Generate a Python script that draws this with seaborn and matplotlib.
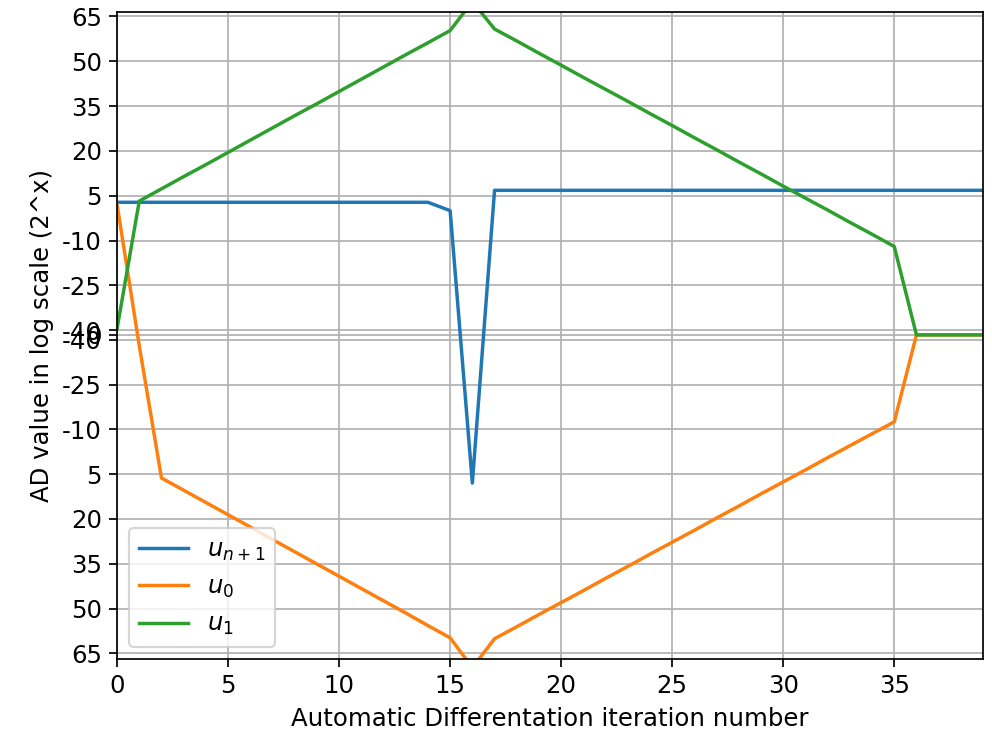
import numpy as np
import pandas as pd
import seaborn as sns
from matplotlib import pyplot as plt

DPI = 155
OFFSET = 41.6  # shift so that 2^-40 sits just above the zero line

plt.rcParams["font.size"] = 11.3

iterations = list(range(40))

# log2 of |value| and sign of value (0 means the value is exactly zero)
un1_exp = [2.8] * 15 + [0.0, 8.0] + [6.8] * 23
un1_sign = [1] * 16 + [-1] + [1] * 23

u0_exp = [2.1, -38.0, 6.3, 10.4, 14.5, 18.6, 22.7, 26.9, 31.0, 35.1,
          39.2, 43.3, 47.4, 51.5, 55.7, 59.8, 69.8, 60.1, 56.1, 52.0,
          48.0, 44.0, 39.9, 35.9, 31.8, 27.8, 23.8, 19.7, 15.7, 11.6,
          7.6, 3.6, -0.5, -4.5, -8.5, -12.5, 0, 0, 0, 0]
u0_sign = [1] + [-1] * 35 + [0] * 4

u1_exp = [-39.5, 3.2, 7.3, 11.4, 15.4, 19.5, 23.6, 27.7, 31.8, 35.8,
          39.9, 44.0, 48.1, 52.2, 56.2, 60.3, 70.0, 60.8, 56.8, 52.7,
          48.7, 44.6, 40.6, 36.6, 32.5, 28.5, 24.4, 20.4, 16.3, 12.3,
          8.2, 4.2, 0.2, -3.9, -7.9, -12.0, 0, 0, 0, 0]
u1_sign = [1] * 36 + [0] * 4

series_names = ["$u_{n+1}$", "$u_0$", "$u_1$"]
tick_exps = [65, 50, 35, 20, 5, -10, -25, -40]


def to_axis(exps, signs):
    exps = np.asarray(exps, dtype=float)
    signs = np.asarray(signs, dtype=float)
    return signs * (exps + OFFSET)


def main():
    frames = []
    for name, e, s in zip(series_names,
                          [un1_exp, u0_exp, u1_exp],
                          [un1_sign, u0_sign, u1_sign]):
        frames.append(pd.DataFrame({"iteration": iterations,
                                    "y": to_axis(e, s),
                                    "series": name}))
    df = pd.concat(frames, ignore_index=True)

    fig, ax = plt.subplots(figsize=(992 / DPI, 732 / DPI), dpi=DPI)
    fig.subplots_adjust(left=0.118, right=0.991, top=0.984, bottom=0.0993)

    sns.lineplot(data=df, x="iteration", y="y", hue="series",
                 hue_order=series_names,
                 palette=["#1f77b4", "#ff7f0e", "#2ca02c"],
                 linewidth=1.6, ax=ax)

    pos = [t + OFFSET for t in tick_exps]
    neg = [-(t + OFFSET) for t in tick_exps]
    ax.set_yticks(pos + [0] + neg)
    ax.set_yticklabels([str(t) for t in tick_exps] + ["0"] + [str(t) for t in tick_exps])
    ax.set_ylim(-108.6, 108.2)
    ax.set_xlim(0, 39)
    ax.set_xticks(range(0, 40, 5))

    ax.grid(True)
    ax.set_xlabel("Automatic Differentation iteration number")
    ax.set_ylabel("AD value in log scale (2^x)")

    handles, labels = ax.get_legend_handles_labels()
    ax.legend(handles, labels, loc="lower left")

    fig.savefig("out.png", dpi=DPI)


if __name__ == "__main__":
    main()
